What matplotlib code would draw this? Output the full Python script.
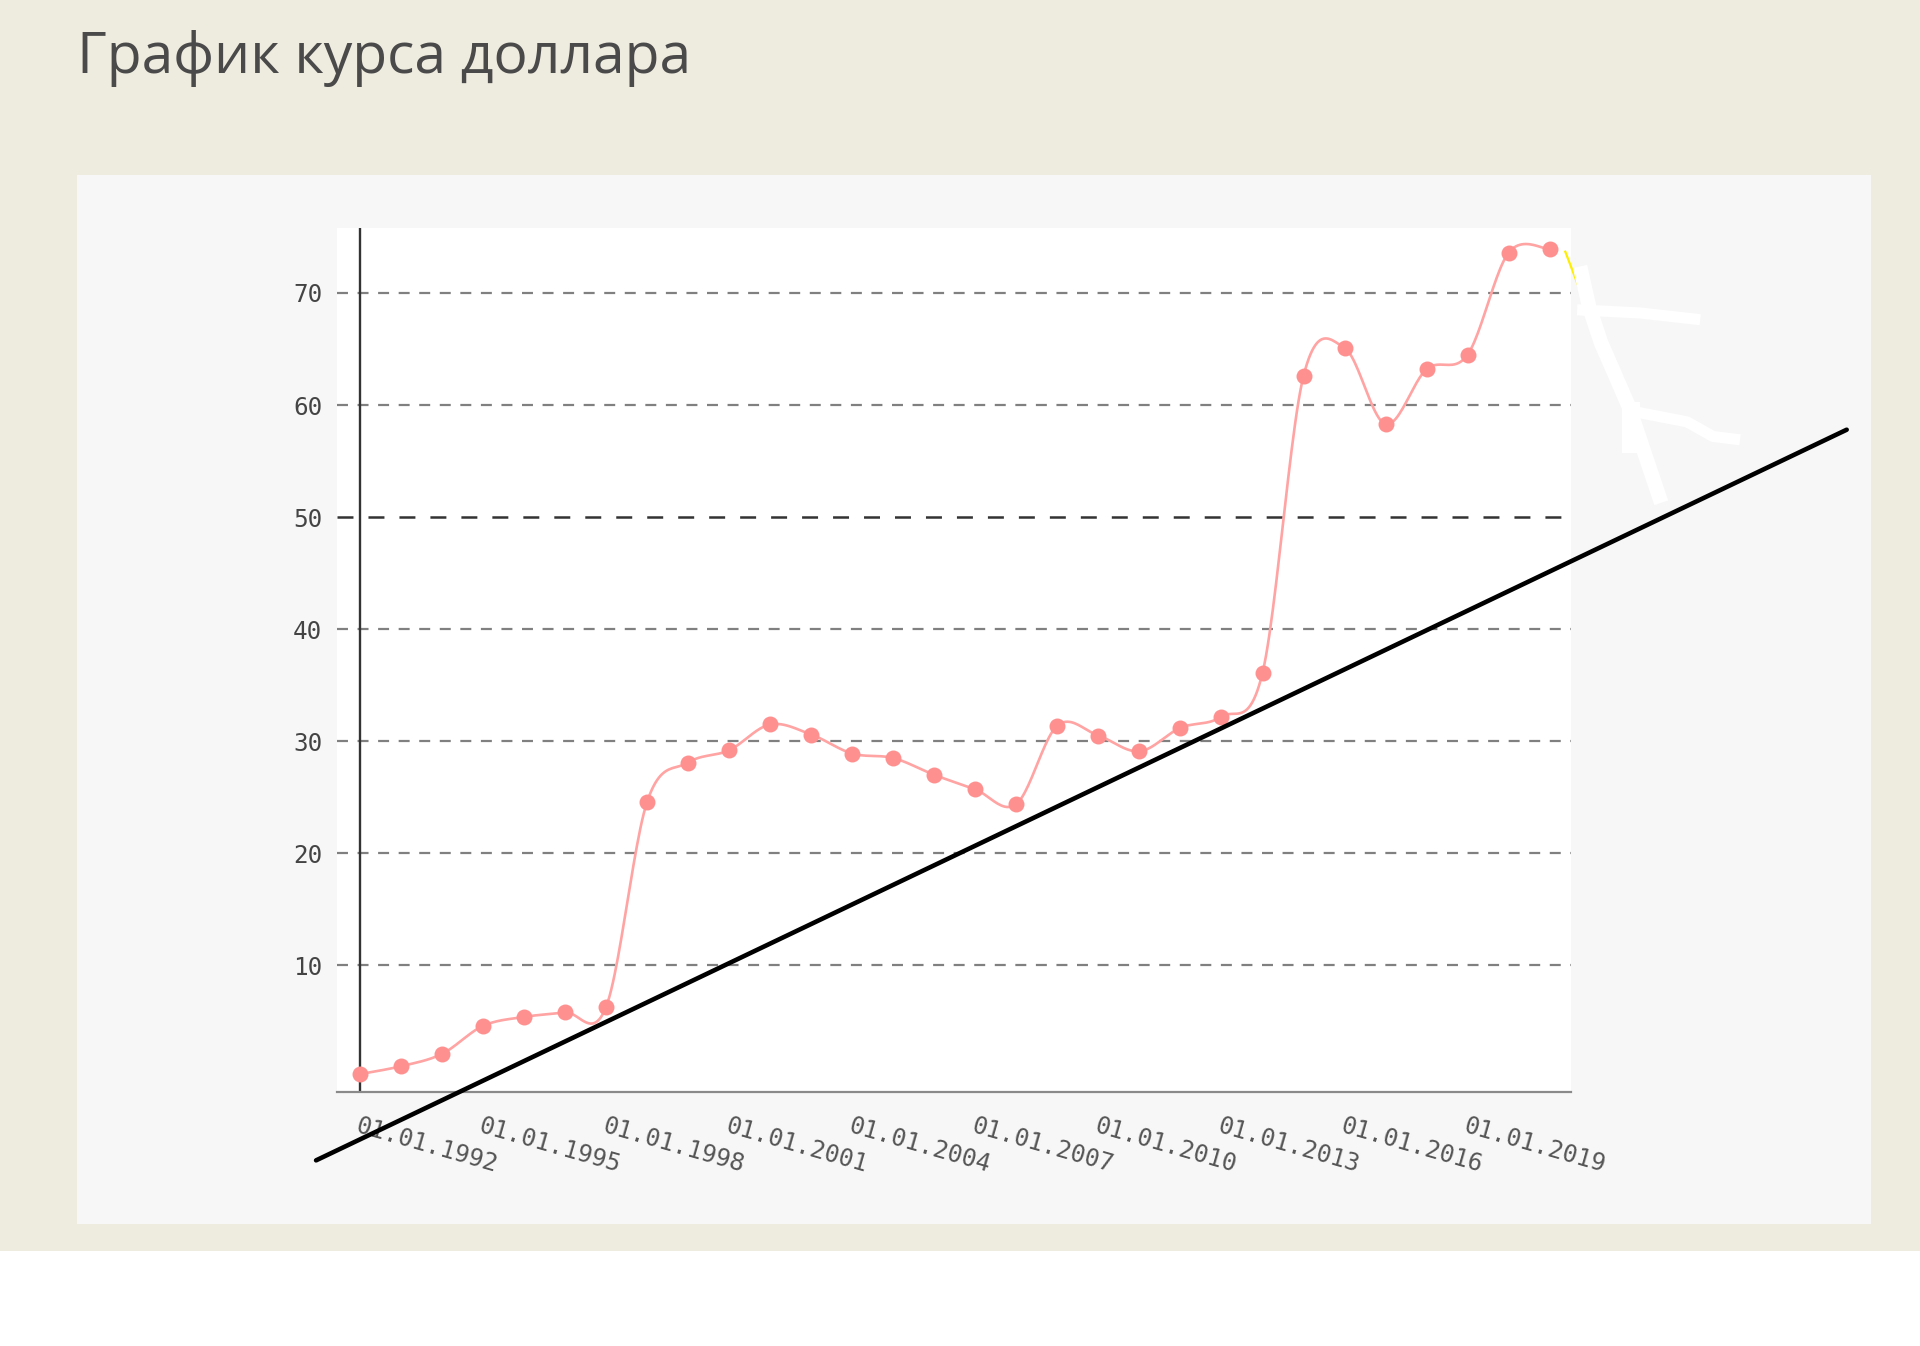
import numpy as np
import matplotlib
matplotlib.use('Agg')
import matplotlib.pyplot as plt
from matplotlib.patches import Rectangle

plt.rcParams['lines.scale_dashes'] = False

# ---- data ----
years = list(range(1992, 2022))
rate = [0.3, 1.0, 2.1, 4.6, 5.4, 5.8, 6.3, 24.6, 28.1, 29.2,
        31.5, 30.6, 28.9, 28.5, 27.0, 25.7, 24.4, 31.4, 30.5, 29.1,
        31.2, 32.2, 36.1, 62.6, 65.1, 58.3, 63.2, 64.5, 73.6, 73.9]
tick_years = [1992, 1995, 1998, 2001, 2004, 2007, 2010, 2013, 2016, 2019]
tick_labels = ['01.01.%d' % y for y in tick_years]
y_ticks = [10, 20, 30, 40, 50, 60, 70]
y_tick_labels = ['10', '20', '30', '40', '50', '60', '70']
title = 'График курса доллара'

# hand-drawn trend line (data coords)
trend_x = [1990.93, 2028.24]
trend_y = [-7.4, 57.8]
# yellow dashed continuation
yellow_x = [2021.38, 2023.13]
yellow_y = [73.69, 56.9]
# white eraser strokes
erase_a_x = [2021.74, 2021.96, 2022.25, 2022.57, 2022.93, 2023.31, 2023.72]
erase_a_y = [72.37, 68.79, 65.58, 62.9, 59.86, 55.74, 51.28]
erase_b_x = [2021.67, 2023.2, 2024.67]
erase_b_y = [68.5, 68.22, 67.62]
erase_c_x = [2023.08, 2024.35, 2024.98, 2025.64]
erase_c_y = [59.4, 58.5, 57.2, 56.9]
erase_d_x = [2022.98, 2022.98]
erase_d_y = [60.3, 55.7]


def catmull_rom(x, y, n=24):
    p = np.column_stack([x, y]).astype(float)
    p = np.vstack([p[0], p, p[-1]])
    out = []
    t = np.linspace(0, 1, n, endpoint=False)
    for i in range(1, len(p) - 2):
        p0, p1, p2, p3 = p[i - 1], p[i], p[i + 1], p[i + 2]
        m1 = (p2 - p0) / 2.0
        m2 = (p3 - p1) / 2.0
        h00 = 2 * t**3 - 3 * t**2 + 1
        h10 = t**3 - 2 * t**2 + t
        h01 = -2 * t**3 + 3 * t**2
        h11 = t**3 - t**2
        seg = (h00[:, None] * p1 + h10[:, None] * m1 +
               h01[:, None] * p2 + h11[:, None] * m2)
        out.append(seg)
    out.append(p[-2][None, :])
    out = np.vstack(out)
    return out[:, 0], out[:, 1]


W, H = 1920, 1346
fig = plt.figure(figsize=(W / 100, H / 100), dpi=100)
fig.patch.set_facecolor('#eeebdf')

# white strip at bottom
fig.add_artist(Rectangle((0, 0), 1, (H - 1251) / H, transform=fig.transFigure,
                         facecolor='white', edgecolor='none', zorder=-2))
# light panel
fig.add_artist(Rectangle((77 / W, 1 - 1224 / H), (1871 - 77) / W, (1224 - 175) / H,
                         transform=fig.transFigure, facecolor='#f7f7f7',
                         edgecolor='none', zorder=-1))

fig.text(77 / W, 1 - 73 / H, title, family='Open Sans', fontsize=41,
         color='#4a4a4a', ha='left', va='baseline')

ax = fig.add_axes([337 / W, 1 - 1092 / H, (1571 - 337) / W, (1092 - 228) / H])
ax.set_facecolor('white')
ax.set_xlim(1991.44, 2021.52)
ax.set_ylim(-1.3, 75.8)

for s in ['top', 'right', 'left']:
    ax.spines[s].set_visible(False)
ax.spines['bottom'].set_color('#8a8a8a')
ax.spines['bottom'].set_linewidth(1.6)

# grid lines
for v in y_ticks:
    if v == 50:
        ax.axhline(v, color='#333333', lw=1.8, dashes=(11.5, 10.8), zorder=1)
    else:
        ax.axhline(v, color='#808080', lw=1.6, dashes=(7.9, 6.9), zorder=1)

# y axis line at first date
ax.axvline(years[0], color='#333333', lw=1.7, zorder=2)

ax.set_yticks(y_ticks)
ax.set_yticklabels(y_tick_labels)
ax.tick_params(axis='y', length=0, pad=10.5, labelsize=17.5, labelcolor='#444444')
for lab in ax.get_yticklabels():
    lab.set_family('DejaVu Sans Mono')

ax.set_xticks(tick_years)
ax.set_xticklabels(tick_labels)
ax.tick_params(axis='x', length=0, pad=16, labelsize=17.5, labelcolor='#555555')
for lab in ax.get_xticklabels():
    lab.set_family('DejaVu Sans Mono')
    lab.set_rotation(-16)
    lab.set_ha('left')
    lab.set_va('top')
    lab.set_rotation_mode('anchor')

# smooth line + markers
sx, sy = catmull_rom(years, rate)
ax.plot(sx, sy, color='#ffa3a3', lw=1.9, zorder=3, solid_capstyle='round')
ax.plot(years, rate, 'o', color='#ff9090', markersize=11.5, markeredgewidth=0, zorder=4)

# annotations
ax.plot(yellow_x, yellow_y, color='#ffee00', lw=1.6, clip_on=False, zorder=5)
ax.plot(erase_a_x, erase_a_y, color='white', lw=10.5, clip_on=False, zorder=6, solid_capstyle='butt')
ax.plot(erase_b_x, erase_b_y, color='white', lw=8, clip_on=False, zorder=6, solid_capstyle='butt')
ax.plot(erase_c_x, erase_c_y, color='white', lw=8, clip_on=False, zorder=6, solid_capstyle='butt')
ax.plot(erase_d_x, erase_d_y, color='white', lw=13, clip_on=False, zorder=6, solid_capstyle='butt')
ax.plot(trend_x, trend_y, color='black', lw=3.3, clip_on=False, zorder=7, solid_capstyle='round')

fig.savefig('out.png', dpi=100, facecolor=fig.get_facecolor())
